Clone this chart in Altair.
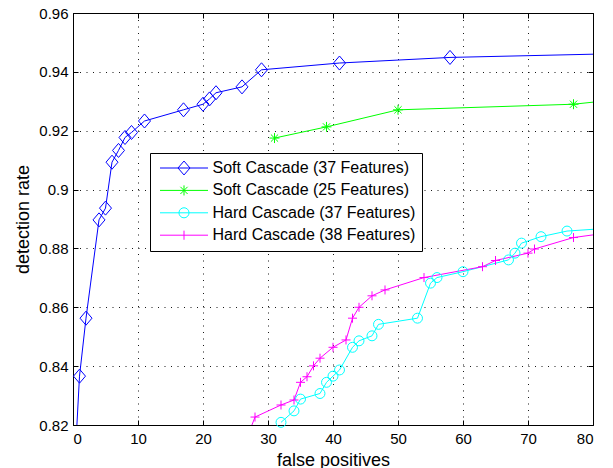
import altair as alt
import pandas as pd

FONT = "Liberation Sans"

series_names = [
    "Soft Cascade (37 Features)",
    "Soft Cascade (25 Features)",
    "Hard Cascade (37 Features)",
    "Hard Cascade (38 Features)",
]
series_colors = ["#0000ff", "#00ff00", "#00ffff", "#ff00ff"]

# Soft Cascade (37 Features)
soft37_x = [0, 1, 2, 4, 5, 6, 7, 8, 9, 11, 17, 20, 21, 22, 26, 29, 41, 58, 80]
soft37_y = [0.795, 0.8366, 0.8563, 0.8897, 0.8937, 0.9093, 0.9133, 0.9177, 0.9194,
            0.9233, 0.9271, 0.929, 0.9308, 0.9329, 0.9349, 0.9407, 0.943, 0.9449, 0.946]
soft37_mark = [0, 1, 1, 1, 1, 1, 1, 1, 1, 1, 1, 1, 1, 1, 1, 1, 1, 1, 0]

# Soft Cascade (25 Features)
soft25_x = [31, 39, 50, 77, 80]
soft25_y = [0.9175, 0.9213, 0.9271, 0.929, 0.9297]
soft25_mark = [1, 1, 1, 1, 0]

# Hard Cascade (37 Features)
hard37_x = [32, 34, 35, 38, 39, 40, 41, 43, 44, 46, 47, 53, 55, 56, 60, 67, 68, 69, 72, 76, 80]
hard37_y = [0.8209, 0.8248, 0.8288, 0.8307, 0.8345, 0.8366, 0.8387, 0.8464, 0.8486, 0.8503,
            0.8542, 0.8563, 0.8682, 0.8701, 0.8721, 0.8761, 0.8784, 0.8818, 0.884, 0.8859, 0.8865]
hard37_mark = [1, 1, 1, 1, 1, 1, 1, 1, 1, 1, 1, 1, 1, 1, 1, 1, 1, 1, 1, 1, 0]

# Hard Cascade (38 Features)
hard38_x = [27, 28, 32, 34, 35, 36, 37, 38, 40, 42, 43, 44, 46, 48, 54, 63, 65, 70, 71, 77, 80]
hard38_y = [0.817, 0.8227, 0.8268, 0.8285, 0.8345, 0.8364, 0.8401, 0.8427, 0.8464, 0.8489,
            0.8563, 0.86, 0.8639, 0.8659, 0.8701, 0.8738, 0.8759, 0.8784, 0.8798, 0.8837, 0.8846]
hard38_mark = [0, 1, 1, 1, 1, 1, 1, 1, 1, 1, 1, 1, 1, 1, 1, 1, 1, 1, 1, 1, 0]

x_ticks = [0, 10, 20, 30, 40, 50, 60, 70, 80]
y_ticks = [0.82, 0.84, 0.86, 0.88, 0.9, 0.92, 0.94, 0.96]

# marker shapes (unit paths) for the data points
marker_paths = [
    "M-1,0L0,-1.17L1,0L0,1.17Z",
    "M-0.83,0L0.83,0M0,-0.83L0,0.83M-0.6,-0.6L0.6,0.6M-0.6,0.6L0.6,-0.6",
    "M0.83,0A0.83,0.83 0 1,1 -0.83,0A0.83,0.83 0 1,1 0.83,0Z",
    "M-0.75,0L0.75,0M0,-0.75L0,0.75",
]
# legend symbols: line sample + marker
legend_paths = [
    "M-1,0L1,0M-0.25,0L0,-0.29L0.25,0L0,0.29Z",
    "M-1,0L1,0M0,-0.21L0,0.21M-0.15,-0.15L0.15,0.15M-0.15,0.15L0.15,-0.15",
    "M-1,0L1,0M0.21,0A0.21,0.21 0 1,1 -0.21,0A0.21,0.21 0 1,1 0.21,0Z",
    "M-1,0L1,0M0,-0.19L0,0.19",
]

rows = []
for name, xs, ys, ms in zip(
    series_names,
    [soft37_x, soft25_x, hard37_x, hard38_x],
    [soft37_y, soft25_y, hard37_y, hard38_y],
    [soft37_mark, soft25_mark, hard37_mark, hard38_mark],
):
    for x, y, m in zip(xs, ys, ms):
        rows.append({"series": name, "fp": x, "dr": y, "marker": m})
df = pd.DataFrame(rows)

W, H = 520, 412
GRID_DASH = [1, 5.5]

xscale = alt.Scale(domain=[0, 80], nice=False, zero=False)
yscale = alt.Scale(domain=[0.82, 0.96], nice=False, zero=False)
color_scale = alt.Scale(domain=series_names, range=series_colors)

common = dict(labelFont=FONT, titleFont=FONT, labelColor="#000", titleColor="#000",
              titleFontWeight="normal")

x_main = alt.Axis(title="false positives", values=x_ticks, format="d", ticks=False, tickSize=0,
                  domain=False, grid=True, gridColor="#000", gridDash=GRID_DASH, gridOpacity=0.9,
                  gridWidth=1, labelFontSize=15, titleFontSize=18, labelPadding=6,
                  titlePadding=5, **common)
y_main = alt.Axis(title="detection rate", values=y_ticks, format="~g", ticks=False, tickSize=0,
                  domain=False, grid=True, gridColor="#000", gridDash=GRID_DASH, gridOpacity=0.9,
                  gridWidth=1, labelFontSize=15, titleFontSize=18, labelPadding=5,
                  titlePadding=6, **common)

def tick_axis(orient, offset, values):
    return alt.Axis(orient=orient, offset=offset, values=values, labels=False, ticks=True,
                    tickSize=5, tickColor="#000", tickWidth=1, grid=False, domain=False,
                    title=None)

legend_def = dict(orient="none", legendX=77, legendY=140, title=None, padding=6,
                  fillColor="white", strokeColor="black", labelFont=FONT, labelFontSize=16,
                  labelColor="#000", symbolSize=2304, symbolStrokeWidth=1, symbolOffset=3.5,
                  labelOffset=4, clipHeight=18, rowPadding=4.4, direction="vertical",
                  labelLimit=400, cornerRadius=0)

lines = alt.Chart(df).mark_line(clip=True, strokeWidth=1).encode(
    x=alt.X("fp:Q", scale=xscale, axis=x_main),
    y=alt.Y("dr:Q", scale=yscale, axis=y_main),
    color=alt.Color("series:N", scale=color_scale, legend=None),
)

markers = alt.Chart(df).transform_filter("datum.marker == 1").mark_point(
    filled=False, strokeWidth=1, opacity=1, size=144
).encode(
    x=alt.X("fp:Q", scale=xscale, axis=tick_axis("top", -H, x_ticks)),
    y=alt.Y("dr:Q", scale=yscale, axis=tick_axis("right", -W, y_ticks)),
    color=alt.Color("series:N", scale=color_scale, legend=None),
    shape=alt.Shape("series:N", scale=alt.Scale(domain=series_names, range=marker_paths),
                    legend=None),
)

legend_layer = alt.Chart(df).transform_filter("false").mark_point(
    filled=False, strokeWidth=1, opacity=1, size=2304
).encode(
    x=alt.X("fp:Q", scale=xscale, axis=tick_axis("bottom", -H, x_ticks)),
    y=alt.Y("dr:Q", scale=yscale, axis=tick_axis("left", -W, y_ticks)),
    color=alt.Color("series:N", scale=color_scale, legend=alt.Legend(**legend_def)),
    shape=alt.Shape("series:N", scale=alt.Scale(domain=series_names, range=legend_paths),
                    legend=alt.Legend(**legend_def)),
)

chart = alt.layer(lines, markers, legend_layer).resolve_scale(
    color="independent", shape="independent"
).resolve_axis(
    x="independent", y="independent"
).properties(
    width=W, height=H,
    autosize=alt.AutoSizeParams(type="none"),
    padding={"left": 73, "top": 13, "right": 20, "bottom": 43},
    background="white",
).configure_view(stroke="#000", strokeWidth=1)

chart.save("out.html", embed_options={"renderer": "svg", "actions": False})
